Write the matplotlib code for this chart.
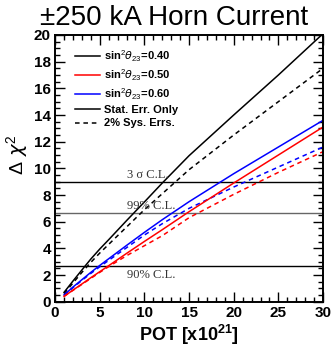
import matplotlib
matplotlib.use("Agg")
import matplotlib.pyplot as plt
from matplotlib.ticker import MultipleLocator
from matplotlib.lines import Line2D

plt.rcParams["font.family"] = ["Liberation Sans", "DejaVu Sans"]
plt.rcParams["mathtext.fontset"] = "custom"
plt.rcParams["mathtext.rm"] = "Liberation Sans"
plt.rcParams["mathtext.bf"] = "Liberation Sans:bold"

# POT [x10^21]
pot = [1, 2, 3, 4, 5, 6, 8, 10, 12, 15, 20, 25, 30]

# delta chi^2, stat. err. only
stat_040 = [0.7, 1.55, 2.38, 3.2, 3.95, 4.65, 6.08, 7.48, 8.9, 10.95, 14.0, 17.0, 20.1]
stat_050 = [0.4, 0.87, 1.33, 1.8, 2.25, 2.7, 3.62, 4.52, 5.4, 6.75, 8.9, 11.0, 13.1]
stat_060 = [0.5, 1.1, 1.65, 2.2, 2.72, 3.22, 4.22, 5.2, 6.15, 7.5, 9.6, 11.6, 13.6]

# delta chi^2, with 2% systematic errors
sys_040 = [0.6, 1.4, 2.2, 2.95, 3.65, 4.3, 5.6, 6.9, 8.1, 9.9, 12.5, 15.0, 17.5]
sys_050 = [0.4, 0.85, 1.3, 1.75, 2.2, 2.63, 3.45, 4.2, 4.95, 6.3, 8.05, 9.7, 11.25]
sys_060 = [0.5, 1.05, 1.6, 2.12, 2.62, 3.1, 4.05, 5.0, 5.85, 7.0, 8.6, 10.1, 11.6]

cl_levels = [2.71, 6.63, 9.0]
cl_labels = ["90% C.L.", "99% C.L.", "3 \u03c3 C.L."]
cl_colors = ["black", "#666666", "black"]

fig = plt.figure(figsize=(3.32, 3.5), dpi=100)
ax = fig.add_axes([0.166, 0.138, 0.807, 0.762])

for y, lab, c in zip(cl_levels, cl_labels, cl_colors):
    ax.axhline(y, color=c, linewidth=1.0, zorder=1)
    if lab.startswith("90"):
        ax.text(8.1, y - 0.25, lab, family="Liberation Serif", fontsize=9,
                color="#333333", ha="left", va="top")
    else:
        ax.text(8.1, y + 0.08, lab, family="Liberation Serif", fontsize=9,
                color="#333333", ha="left", va="bottom")

dash = (0, (3, 2.5))
ax.plot(pot, stat_040, color="black", linewidth=1.1)
ax.plot(pot, sys_040, color="black", linewidth=1.1, linestyle=dash)
ax.plot(pot, stat_060, color="blue", linewidth=1.1)
ax.plot(pot, sys_060, color="blue", linewidth=1.1, linestyle=dash)
ax.plot(pot, stat_050, color="red", linewidth=1.1)
ax.plot(pot, sys_050, color="red", linewidth=1.1, linestyle=dash)

ax.set_xlim(0, 30)
ax.set_ylim(0, 20)
ax.xaxis.set_major_locator(MultipleLocator(5))
ax.xaxis.set_minor_locator(MultipleLocator(1))
ax.yaxis.set_major_locator(MultipleLocator(2))
ax.yaxis.set_minor_locator(MultipleLocator(0.5))
ax.tick_params(which="both", direction="in", top=True, right=True, width=1.0)
ax.tick_params(which="major", length=7, labelsize=11, pad=3)
ax.tick_params(which="minor", length=3.5)
for lab in ax.get_xticklabels() + ax.get_yticklabels():
    lab.set_fontweight("bold")
for s in ax.spines.values():
    s.set_linewidth(1.4)

ax.set_xlabel(r"POT [x10$^{\mathbf{21}}$]", fontsize=13, fontweight="bold", labelpad=2)
ax.set_ylabel(r"$\Delta\ \chi^{2}$", fontsize=14)
ax.yaxis.set_label_coords(-0.09, 0.55)

handles = [
    Line2D([], [], color="black", linewidth=1.1),
    Line2D([], [], color="red", linewidth=1.1),
    Line2D([], [], color="blue", linewidth=1.1),
    Line2D([], [], color="black", linewidth=1.1),
    Line2D([], [], color="black", linewidth=1.1, linestyle=dash),
]
labels = [
    r"sin$^{2}\theta_{23}$=0.40",
    r"sin$^{2}\theta_{23}$=0.50",
    r"sin$^{2}\theta_{23}$=0.60",
    "Stat. Err. Only",
    "2% Sys. Errs.",
]
leg = ax.legend(handles, labels, loc="upper left", bbox_to_anchor=(0.05, 0.975),
                frameon=False, prop={"weight": "bold", "size": 8},
                handlelength=2.2, handletextpad=0.4, labelspacing=0.3,
                borderaxespad=0.2)

fig.text(0.525, 0.912, "\u00b1250 kA Horn Current", fontsize=20, ha="center",
         va="bottom", family="Liberation Sans")

fig.savefig("out.png", dpi=100)
